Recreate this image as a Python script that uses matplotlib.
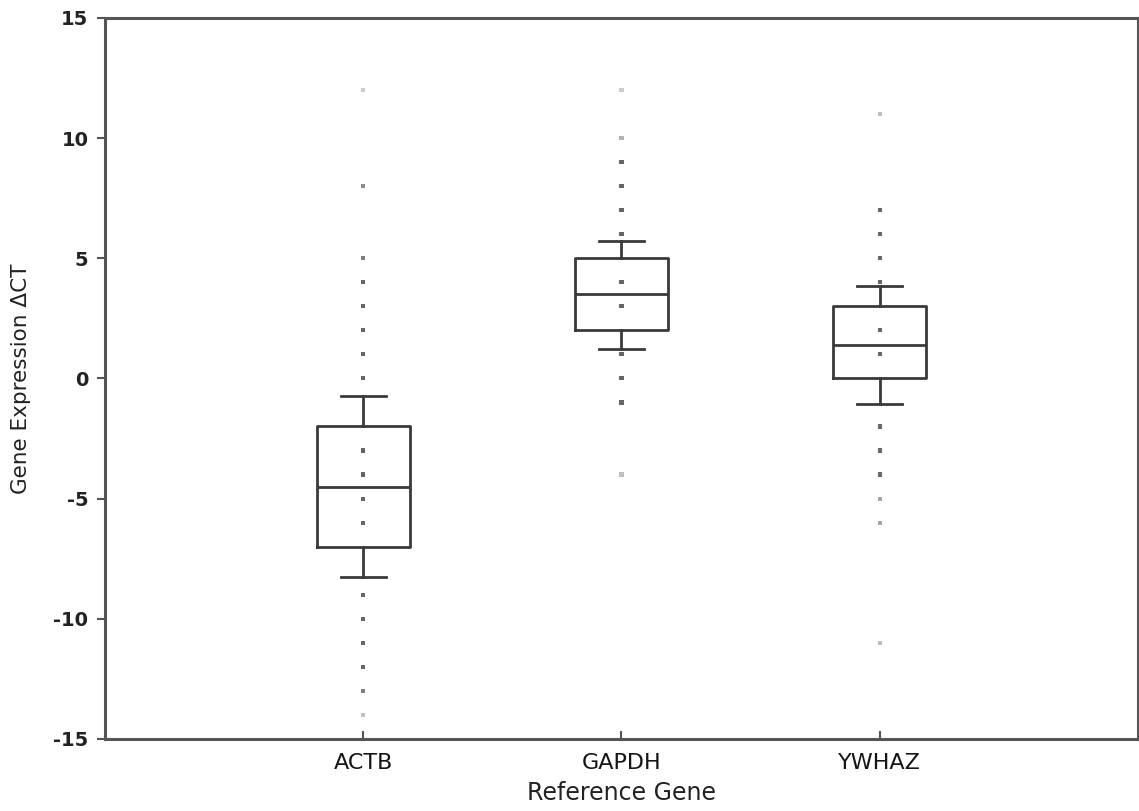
import matplotlib
matplotlib.use("Agg")
import matplotlib.pyplot as plt

plt.rcParams["axes.unicode_minus"] = False

genes = ["ACTB", "GAPDH", "YWHAZ"]
whislo = [-8.25, 1.22, -1.08]
q1 = [-7.0, 2.0, 0.0]
med = [-4.5, 3.5, 1.4]
q3 = [-2.0, 5.0, 3.0]
whishi = [-0.73, 5.7, 3.86]

actb_pts = [12, 8, 5, 4, 3, 2, 1, 0, -3, -4, -5, -6, -9, -10, -11, -12, -13, -14]
actb_shade = [0.2, 0.45, 0.5, 0.6, 0.6, 0.6, 0.6, 0.6, 0.6, 0.6, 0.6, 0.6, 0.6, 0.6, 0.6, 0.6, 0.5, 0.25]
gapdh_pts = [12, 10, 9, 8, 7, 6, 4, 3, 1, 0, -1, -4]
gapdh_shade = [0.2, 0.3, 0.6, 0.6, 0.6, 0.6, 0.6, 0.6, 0.6, 0.6, 0.6, 0.25]
ywhaz_pts = [11, 7, 6, 5, 4, 2, 1, -2, -3, -4, -5, -6, -11]
ywhaz_shade = [0.25, 0.6, 0.6, 0.6, 0.6, 0.6, 0.6, 0.6, 0.6, 0.6, 0.35, 0.35, 0.25]

points = [actb_pts, gapdh_pts, ywhaz_pts]
shades = [actb_shade, gapdh_shade, ywhaz_shade]

fig = plt.figure(figsize=(11.39, 8.11), dpi=100)
ax = fig.add_axes([0.0922, 0.0888, 0.9068, 0.8892])

stats = []
for i, g in enumerate(genes):
    stats.append(dict(label=g, whislo=whislo[i], q1=q1[i], med=med[i],
                      q3=q3[i], whishi=whishi[i], fliers=[]))

positions = [1, 2, 3]
lc = "#3a3a3a"
ax.bxp(stats, positions=positions, widths=0.36, showfliers=False,
       boxprops=dict(color=lc, linewidth=2),
       medianprops=dict(color=lc, linewidth=2),
       whiskerprops=dict(color=lc, linewidth=2),
       capprops=dict(color=lc, linewidth=2),
       capwidths=0.175, zorder=2)

for pos, pts, sh in zip(positions, points, shades):
    cols = [(1 - s, 1 - s, 1 - s) for s in sh]
    ax.scatter([pos] * len(pts), pts, s=9, marker="s", c=cols,
               linewidths=0, zorder=3, clip_on=False)

ax.set_xlim(0, 4)
ax.set_ylim(-15, 15)
ax.set_yticks([-15, -10, -5, 0, 5, 10, 15])
ax.set_xticks(positions)
ax.set_xticklabels(genes, fontsize=16, color="#151515")
for t in ax.get_yticklabels():
    t.set_fontsize(14)
    t.set_fontweight("bold")
    t.set_color("#222222")

ax.tick_params(axis="x", direction="in", length=6, width=1.5, color="#555555",
               pad=10, top=False)
ax.tick_params(axis="y", direction="out", length=6, width=1.5, color="#555555",
               pad=6, right=False)
for sp in ax.spines.values():
    sp.set_linewidth(2.2)
    sp.set_color("#555555")

ax.set_xlabel("Reference Gene", fontsize=17, labelpad=6, color="#222222")
ax.set_ylabel("Gene Expression ΔCT", fontsize=15.5, labelpad=16, color="#222222")

fig.savefig("out.png", dpi=100)
